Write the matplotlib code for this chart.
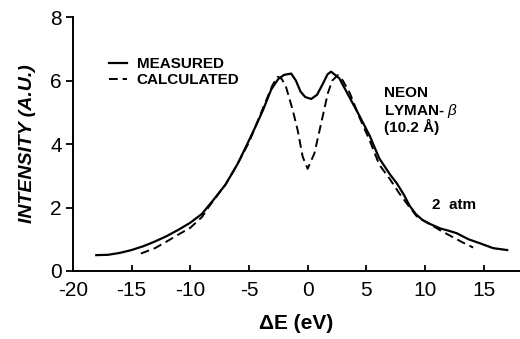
import matplotlib
matplotlib.use("Agg")
import matplotlib.pyplot as plt

# Measured spectrum (solid)
meas_x = [-18, -17, -16, -15, -14, -13, -12, -11, -10, -9, -8, -7, -6, -5.4, -4.5,
          -3.8, -3.1, -2.5, -2.0, -1.4, -1.0, -0.6, -0.2, 0.3, 0.8, 1.3, 1.7, 2.0,
          2.7, 3.6, 4.4, 5.3, 6.1, 7.0, 7.6, 8.2, 8.7, 9.2, 9.8, 10.5, 11.3, 12.0,
          12.7, 13.7, 14.7, 15.8, 17.0]
meas_y = [0.50, 0.51, 0.57, 0.66, 0.78, 0.93, 1.10, 1.30, 1.52, 1.80, 2.25, 2.72, 3.35,
          3.80, 4.50, 5.07, 5.72, 6.05, 6.18, 6.22, 6.00, 5.65, 5.48, 5.42, 5.55, 5.90,
          6.20, 6.28, 6.07, 5.45, 4.90, 4.25, 3.55, 3.05, 2.76, 2.40, 2.05, 1.80, 1.60,
          1.47, 1.34, 1.27, 1.19, 1.00, 0.87, 0.72, 0.66]

# Calculated spectrum (dashed)
calc_x = [-14.2, -13, -12, -11, -10, -9, -8.4, -7, -6, -5, -4, -3.0, -2.55, -2.2,
          -1.84, -1.27, -0.85, -0.42, 0.0, 0.58, 1.15, 1.72, 2.1, 2.57, 3.0, 3.6, 4.4,
          5.3, 6.1, 7.0, 7.8, 8.5, 9.3, 10.2, 11.3, 12.3, 13.2, 14.1]
calc_y = [0.55, 0.72, 0.93, 1.15, 1.36, 1.70, 2.03, 2.72, 3.35, 4.05, 4.95, 5.85, 6.12,
          6.05, 5.80, 5.07, 4.44, 3.60, 3.22, 3.71, 4.65, 5.60, 6.00, 6.17, 6.00, 5.60,
          4.85, 4.10, 3.35, 2.90, 2.45, 2.10, 1.72, 1.52, 1.28, 1.08, 0.90, 0.74]

xticks = [-20, -15, -10, -5, 0, 5, 10, 15]
yticks = [0, 2, 4, 6, 8]

plt.rcParams['font.family'] = ['Liberation Sans', 'DejaVu Sans']
plt.rcParams['mathtext.fontset'] = 'custom'
plt.rcParams['mathtext.it'] = 'Liberation Sans:italic'
plt.rcParams['mathtext.rm'] = 'Liberation Sans'

fig = plt.figure(figsize=(5.2, 3.39), dpi=100)
ax = fig.add_axes([0.140, 0.2006, 0.858, 0.749])

ax.plot(meas_x, meas_y, color='black', lw=1.6, label='MEASURED')
ax.plot(calc_x, calc_y, color='black', lw=1.4, dashes=(4.5, 2.5), label='CALCULATED')

ax.set_xlim(-20, 18)
ax.set_ylim(0, 8)
ax.set_xticks(xticks)
ax.set_yticks(yticks)
ax.set_xticklabels([str(t) for t in xticks])
ax.set_yticklabels([str(t) for t in yticks])

for s in ['top', 'right']:
    ax.spines[s].set_visible(False)
for s in ['left', 'bottom']:
    ax.spines[s].set_linewidth(1.4)

ax.tick_params(axis='x', direction='in', length=4.5, width=1.3, pad=7, labelsize=15)
ax.tick_params(axis='y', direction='out', length=5, width=1.3, pad=3, labelsize=15)

ax.set_xlabel('ΔE (eV)', fontsize=15, fontweight='bold', labelpad=10)
ax.set_ylabel('INTENSITY (A.U.)', fontsize=14, fontweight='bold', style='italic', labelpad=10)

leg = ax.legend(loc='upper left', bbox_to_anchor=(109/520, 1 - 57/339),
                bbox_transform=fig.transFigure, frameon=False, borderpad=0,
                borderaxespad=0, handlelength=1.2, handletextpad=0.6,
                labelspacing=0.15, prop={'family': 'Liberation Sans', 'weight': 'bold', 'size': 11})

ax.text(6.47, 5.48, 'NEON', fontsize=11, fontweight='bold', va='baseline', ha='left')
ax.text(6.47, 4.9, r'LYMAN- $\beta$', fontsize=11, fontweight='bold', va='baseline', ha='left')
ax.text(6.47, 4.38, '(10.2 Å)', fontsize=11, fontweight='bold', va='baseline', ha='left')
ax.text(10.57, 1.95, '2  atm', fontsize=11, fontweight='bold', va='baseline', ha='left')

fig.savefig('out.png', dpi=100)
